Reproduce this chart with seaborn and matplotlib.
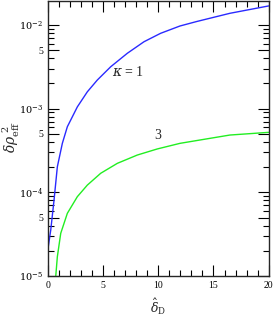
import matplotlib
matplotlib.use("Agg")
import matplotlib.pyplot as plt
import seaborn as sns
import pandas as pd
from matplotlib.ticker import FixedLocator, FixedFormatter, MultipleLocator, LogLocator, NullFormatter

# Data
x_k1 = [0.0, 0.245, 0.544, 0.843, 1.296, 1.749, 2.655, 3.561, 4.468, 5.682, 7.186, 8.70,
        10.21, 11.96, 13.47, 16.49, 20.0]
y_k1 = [2.14e-5, 3.55e-5, 8.1e-5, 2.02e-4, 3.85e-4, 6.08e-4, 1.05e-3, 1.59e-3, 2.20e-3,
        3.17e-3, 4.59e-3, 6.31e-3, 7.96e-3, 9.73e-3, 1.10e-2, 1.38e-2, 1.69e-2]
x_k3 = [0.70, 0.843, 1.151, 1.749, 2.655, 3.561, 4.776, 6.28, 8.09, 9.905, 11.96, 13.77,
        16.49, 20.0]
y_k3 = [1.0e-5, 1.70e-5, 3.24e-5, 5.61e-5, 8.87e-5, 1.22e-4, 1.69e-4, 2.22e-4, 2.79e-4,
        3.30e-4, 3.85e-4, 4.22e-4, 4.84e-4, 5.21e-4]
series_names = ["1", "3"]
ytick_vals = [1e-5, 5e-5, 1e-4, 5e-4, 1e-3, 5e-3, 1e-2]
ytick_labels = [r"$10^{-5}$", "5", r"$10^{-4}$", "5", r"$10^{-3}$", "5", r"$10^{-2}$"]
xtick_vals = [0, 5, 10, 15, 20]

df = pd.DataFrame({
    "x": x_k1 + x_k3,
    "y": y_k1 + y_k3,
    "kappa": [series_names[0]] * len(x_k1) + [series_names[1]] * len(x_k3),
})

sns.set_style("ticks")
plt.rcParams["font.family"] = ["Liberation Serif", "DejaVu Serif"]
plt.rcParams["mathtext.fontset"] = "dejavuserif"

fig = plt.figure(figsize=(2.73, 3.16), dpi=100)
ax = fig.add_axes([0.176, 0.1266, 0.808, 0.870])

sns.lineplot(data=df, x="x", y="y", hue="kappa", palette={"1": "#2a2aff", "3": "#22ee22"},
             linewidth=1.0, legend=False, ax=ax, sort=False)
ax.set_yscale("log")
ax.set_xlim(0, 20)
ax.set_ylim(1e-5, 10 ** (-1.714))

ax.xaxis.set_major_locator(FixedLocator(xtick_vals))
ax.xaxis.set_minor_locator(MultipleLocator(1))
ax.yaxis.set_major_locator(FixedLocator(ytick_vals))
ax.yaxis.set_major_formatter(FixedFormatter(ytick_labels))
ax.yaxis.set_minor_locator(LogLocator(base=10, subs=[2, 3, 4, 6, 7, 8, 9]))
ax.yaxis.set_minor_formatter(NullFormatter())

ax.tick_params(which="both", direction="in", top=True, right=True, labelsize=7, width=0.8, colors="black")
ax.tick_params(which="major", length=8)
ax.tick_params(which="minor", length=4)
for s in ax.spines.values():
    s.set_linewidth(1.0)
    s.set_visible(True)

ax.set_xlabel(r"$\hat{\delta}_{\rm D}$", fontsize=9)
ax.set_ylabel(r"$\delta\rho_{\rm eff}^{\ 2}$", fontsize=10)
ax.xaxis.set_label_coords(0.5, -0.075)
ax.yaxis.set_label_coords(-0.118, 0.505)

ax.text(7.25, 2.77e-3, r"$\kappa$ = 1", fontsize=10, ha="center", va="center")
ax.text(9.9, 4.84e-4, "3", fontsize=10, ha="center", va="center")

fig.savefig("out.png", dpi=100)
